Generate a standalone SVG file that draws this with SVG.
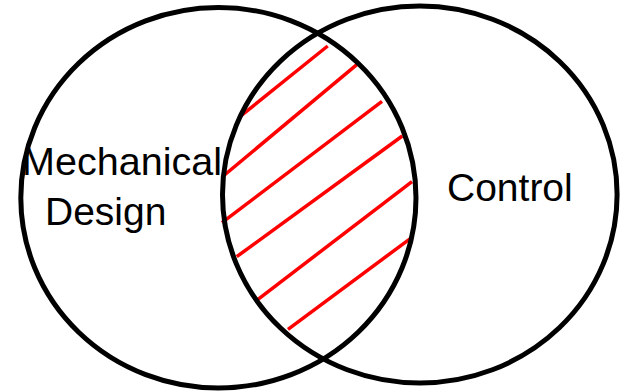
<svg xmlns="http://www.w3.org/2000/svg" width="621" height="392" viewBox="0 0 621 392">
<style>
.set{fill:none;stroke:#000;stroke-width:5}
.hatch{stroke:#ff0000;stroke-width:3.5;fill:none}
.lbl{font-family:"Liberation Sans",Arial,sans-serif;font-size:39px;fill:#000}
</style>
<rect width="621" height="392" fill="#fff"/>
<g id="hatching">
<line class="hatch" x1="239" y1="117.3" x2="327.7" y2="46"/>
<line class="hatch" x1="223.3" y1="176" x2="358.3" y2="63.3"/>
<line class="hatch" x1="222" y1="222.7" x2="382" y2="101.3"/>
<line class="hatch" x1="236.7" y1="256.7" x2="402.3" y2="136"/>
<line class="hatch" x1="258" y1="299.3" x2="412" y2="181.7"/>
<line class="hatch" x1="288" y1="329.3" x2="412" y2="237.3"/>
</g>
<g id="mechanical">
<ellipse class="set" cx="218.4" cy="197.75" rx="197.6" ry="190.25"/>
<text class="lbl" x="22" y="175" textLength="200" lengthAdjust="spacingAndGlyphs">Mechanical</text>
<text class="lbl" x="45" y="225">Design</text>
</g>
<g id="control">
<ellipse class="set" cx="419.8" cy="194.5" rx="197.3" ry="188.5"/>
<text class="lbl" x="447" y="201">Control</text>
</g>
</svg>
